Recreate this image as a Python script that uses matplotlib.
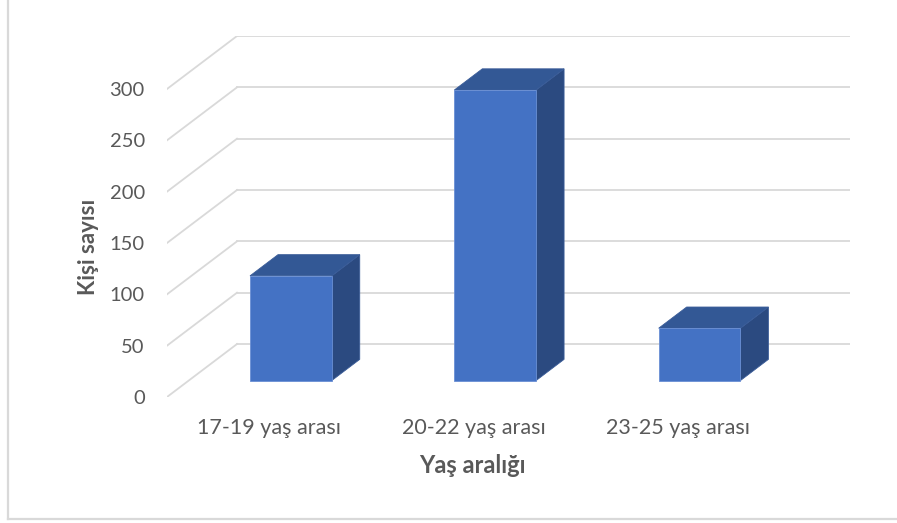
import matplotlib
matplotlib.use("Agg")
import matplotlib.pyplot as plt
from matplotlib.patches import Polygon
from matplotlib.lines import Line2D

categories = ["17-19 yaş arası", "20-22 yaş arası", "23-25 yaş arası"]
counts = [102, 283, 51]
y_ticks = [0, 50, 100, 150, 200, 250, 300]

front_col = "#4472C4"
top_col = "#335895"
side_col = "#2B4A80"
grid_col = "#D9D9D9"
text_col = "#595959"

# oblique depth: full depth shifts x by DX categories and y by DY value units
DX = 0.3426
DY = 51.6
Z0, Z1 = 0.31, 0.71  # bar depth range
BW = 0.4  # bar width in category units

plt.rcParams["font.family"] = ["Lato", "DejaVu Sans"]

W, H = 897, 523
fig = plt.figure(figsize=(W / 100, H / 100), dpi=100)
left, right, bottom, top = 167, 850, 397, 36
ax = fig.add_axes([left / W, (H - bottom) / H, (right - left) / W, (bottom - top) / H])
n = len(categories)
ax.set_xlim(0, n + DX)
ax.set_ylim(0, max(y_ticks) + DY)
for s in ax.spines.values():
    s.set_visible(False)


def proj(x, v, z):
    return (x + z * DX, v + z * DY)


# back wall and side wall gridlines
for v in y_ticks:
    bx0, by0 = proj(0, v, 1)
    bx1, by1 = proj(n, v, 1)
    ax.plot([bx0, bx1], [by0, by1], color=grid_col, lw=1.3, zorder=1)
    fx, fy = proj(0, v, 0)
    ax.plot([fx, bx0], [fy, by0], color=grid_col, lw=1.3, zorder=1)

# 3d-looking bars
for i, val in enumerate(counts):
    x0 = i + 0.5 - BW / 2
    x1 = i + 0.5 + BW / 2
    front = [proj(x0, 0, Z0), proj(x1, 0, Z0), proj(x1, val, Z0), proj(x0, val, Z0)]
    side = [proj(x1, 0, Z0), proj(x1, 0, Z1), proj(x1, val, Z1), proj(x1, val, Z0)]
    topf = [proj(x0, val, Z0), proj(x1, val, Z0), proj(x1, val, Z1), proj(x0, val, Z1)]
    ax.add_patch(Polygon(side, closed=True, fc=side_col, ec="#3A5C98", lw=0.6, zorder=3))
    ax.add_patch(Polygon(topf, closed=True, fc=top_col, ec="#3A5C98", lw=0.6, zorder=3))
    ax.add_patch(Polygon(front, closed=True, fc=front_col, ec="#6A8FD4", lw=0.6, zorder=4))

ax.set_yticks(y_ticks)
ax.set_yticklabels([str(t) for t in y_ticks])
ax.set_xticks([i + 0.5 for i in range(n)])
ax.set_xticklabels(categories)
ax.tick_params(axis="y", length=0, pad=16, labelsize=14.5, labelcolor=text_col)
ax.tick_params(axis="x", length=0, pad=15, labelsize=15.5, labelcolor=text_col)

ax.set_xlabel("Yaş aralığı", fontsize=17, fontweight="bold", color=text_col)
ax.set_ylabel("Kişi sayısı", fontsize=16, fontweight="bold", color=text_col)
ax.xaxis.set_label_coords(0.447, -0.158)
ax.yaxis.set_label_coords(-0.099, 0.416)

# chart frame
fig.add_artist(Line2D([8 / W, 8 / W], [(H - 519) / H, 1], color=grid_col, lw=1.6))
fig.add_artist(Line2D([8 / W, 1], [(H - 519) / H, (H - 519) / H], color=grid_col, lw=1.6))

fig.savefig("out.png", dpi=100)
